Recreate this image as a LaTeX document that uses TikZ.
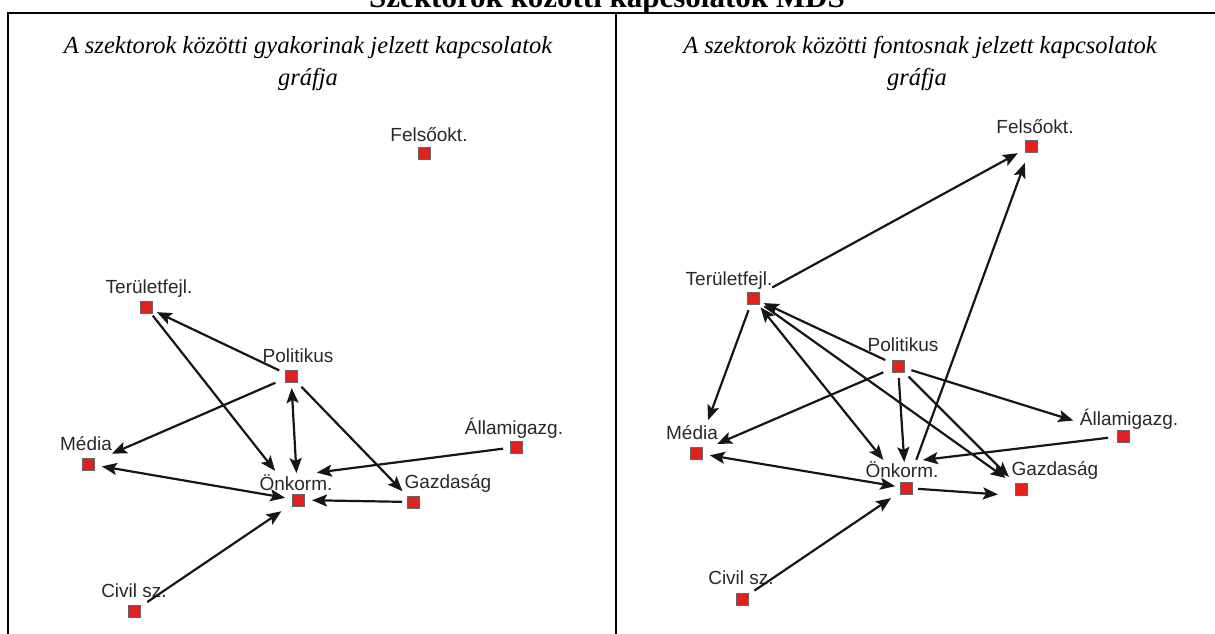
\documentclass[tikz,border=0pt]{standalone}
\usepackage{fontspec}
\setmainfont{Liberation Serif}
\newfontfamily\labfont{Liberation Sans}
\usetikzlibrary{arrows.meta,calc}
\definecolor{sqred}{RGB}{226,32,28}
\definecolor{ink}{RGB}{22,22,22}
\definecolor{labink}{RGB}{40,40,40}
\begin{document}
\begin{tikzpicture}[x=1pt,y=-1pt,
  sq/.style={draw=black!60, fill=sqred, minimum size=12pt, inner sep=0pt, line width=0.5pt},
  lab/.style={font=\labfont\fontsize{19}{21}\selectfont, text=labink, anchor=base, inner sep=0pt},
  sub/.style={font=\fontsize{24.5}{28}\selectfont\itshape, anchor=base, inner sep=0pt},
  conn/.style={draw=ink, line width=2.2pt, -{Stealth[length=15pt,width=12pt,inset=3pt]}},
  bconn/.style={draw=ink, line width=2.2pt, {Stealth[length=15pt,width=12pt,inset=3pt]}-{Stealth[length=15pt,width=12pt,inset=3pt]}},
  frame/.style={line width=1.8pt}]
\useasboundingbox (0,0) rectangle (1215,633);
% title and frame
\node[font=\bfseries\fontsize{31}{34}\selectfont, anchor=base, inner sep=0pt] (title) at (607,7) {Szektorok közötti kapcsolatok MDS};
\draw[frame] (8,640) -- (8,13) -- (1220,13);
\draw[frame] (616,13) -- (616,640);
\node[sub] (s1a) at (308,53) {A szektorok közötti gyakorinak jelzett kapcsolatok};
\node[sub] (s1b) at (308,85) {gráfja};
\node[sub] (s2a) at (920,53) {A szektorok közötti fontosnak jelzett kapcsolatok};
\node[sub] (s2b) at (917,85) {gráfja};
% left panel nodes
\node[sq] (lf) at (424,153) {};
\node[sq] (lt) at (146,307) {};
\node[sq] (lp) at (291,376) {};
\node[sq] (lm) at (88,464) {};
\node[sq] (lo) at (298,500) {};
\node[sq] (lg) at (413,502) {};
\node[sq] (la) at (516,447) {};
\node[sq] (lc) at (134,611) {};
\node[lab] (lfl) at (429,141) {Felsőokt.};
\node[lab] (ltl) at (149,293) {Területfejl.};
\node[lab] (lpl) at (298,362) {Politikus};
\node[lab] (lml) at (86,450) {Média};
\node[lab] (lol) at (296,490) {Önkorm.};
\node[lab] (lgl) at (448,488) {Gazdaság};
\node[lab] (lal) at (514,434) {Államigazg.};
\node[lab] (lcl) at (134,597) {Civil sz.};
% left panel connectors
\draw[conn, shorten <=13pt, shorten >=12pt] (lp.center) -- (lt.center);
\draw[conn, shorten <=11pt, shorten >=37pt] (lt.center) -- (lo.center);
\draw[conn, shorten <=17pt, shorten >=26pt] (lp.center) -- (lm.center);
\draw[bconn, shorten <=12pt, shorten >=27pt] (lp.center) -- (lo.center);
\draw[conn, shorten <=15pt, shorten >=15pt] (lp.center) -- (lg.center);
\draw[conn, shorten <=13pt, shorten >=19pt] (la.center) -- ($(lo.center)+(0,-25)$);
\draw[bconn, shorten <=14pt, shorten >=13pt] (lm.center) -- (lo.center);
\draw[conn, shorten <=11pt, shorten >=14pt] (lg.center) -- (lo.center);
\draw[conn, shorten <=16pt, shorten >=20pt] (lc.center) -- (lo.center);
% right panel nodes
\node[sq] (rf) at (1031,146) {};
\node[sq] (rt) at (753,298) {};
\node[sq] (rp) at (898,366) {};
\node[sq] (rm) at (696,453) {};
\node[sq] (ro) at (906,488) {};
\node[sq] (rg) at (1021,489) {};
\node[sq] (ra) at (1123,436) {};
\node[sq] (rc) at (742,599) {};
\node[lab] (rfl) at (1035,133) {Felsőokt.};
\node[lab] (rtl) at (729,285) {Területfejl.};
\node[lab] (rpl) at (903,351) {Politikus};
\node[lab] (rml) at (692,439) {Média};
\node[lab] (rol) at (902,477) {Önkorm.};
\node[lab] (rgl) at (1055,475) {Gazdaság};
\node[lab] (ral) at (1129,425) {Államigazg.};
\node[lab] (rcl) at (741,584) {Civil sz.};
% right panel connectors
\draw[conn, shorten <=22pt, shorten >=15pt] (rt.center) -- (rf.center);
\draw[conn, shorten <=30pt, shorten >=18pt] (ro.center) -- (rf.center);
\draw[conn, shorten <=13pt, shorten >=35pt] (rt.center) -- (rm.center);
\draw[conn, shorten <=14pt, shorten >=12pt] (rp.center) -- (rt.center);
\draw[bconn, shorten <=12pt, shorten >=36pt] (rt.center) -- (ro.center);
\draw[conn, shorten <=14pt, shorten >=19pt] (rt.center) -- (rg.center);
\draw[conn, shorten <=15pt, shorten >=17pt] (rp.center) -- (rg.center);
\draw[conn, shorten <=12pt, shorten >=26pt] (rp.center) -- (ro.center);
\draw[conn, shorten <=16pt, shorten >=23pt] (rp.center) -- (rm.center);
\draw[conn, shorten <=14pt, shorten >=52pt] (rp.center) -- (ra.center);
\draw[conn, shorten <=15pt, shorten >=17pt] (ra.center) -- ($(ro.center)+(0,-26)$);
\draw[bconn, shorten <=14pt, shorten >=11pt] (rm.center) -- (ro.center);
\draw[conn, shorten <=12pt, shorten >=23pt] (ro.center) -- ($(rg.center)+(0,7)$);
\draw[conn, shorten <=15pt, shorten >=18pt] (rc.center) -- (ro.center);
\end{tikzpicture}
\end{document}
